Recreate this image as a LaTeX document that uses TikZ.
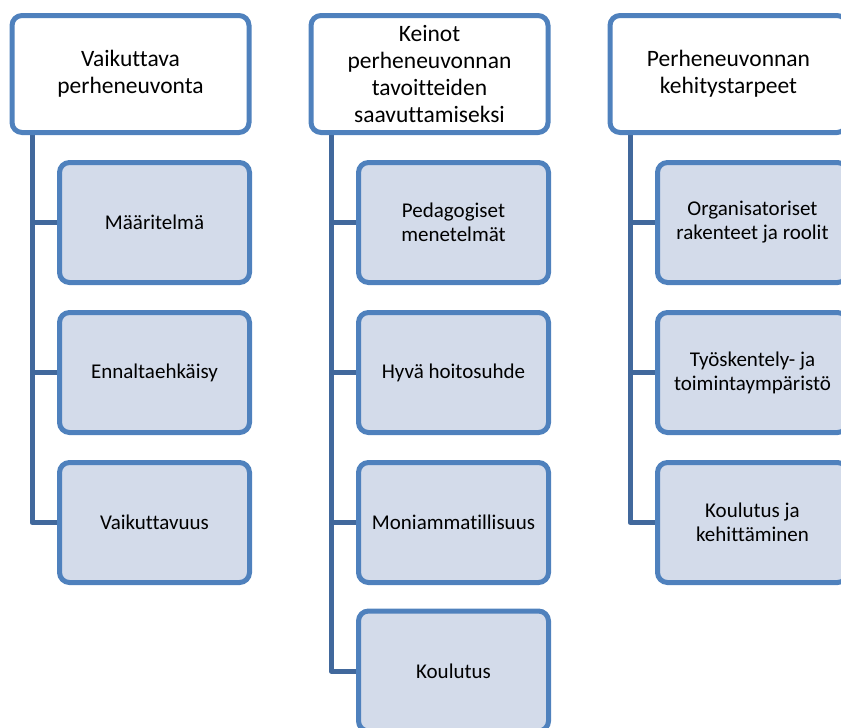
\documentclass[tikz,border=0pt]{standalone}
\usepackage{fontspec}
\setmainfont{Carlito}[Ligatures=NoCommon]
\usetikzlibrary{backgrounds}
\definecolor{bordc}{RGB}{79,129,189}
\definecolor{childfill}{RGB}{211,219,234}
\definecolor{connc}{RGB}{65,104,156}
\tikzset{
  headbox/.style={draw=bordc, line width=5pt, fill=white, rounded corners=10pt,
    minimum width=237pt, minimum height=117pt, align=center, inner sep=0pt,
    font=\fontsize{23.5}{26.8}\selectfont},
  childbox/.style={draw=bordc, line width=5pt, fill=childfill, rounded corners=10pt,
    minimum width=190pt, minimum height=120pt, align=center, inner sep=0pt,
    font=\fontsize{21}{24}\selectfont},
  conn/.style={draw=connc, line width=5pt, line join=round}
}
\begin{document}
\begin{tikzpicture}[x=1pt,y=-1pt]
\clip (0,0) rectangle (841,728);
\useasboundingbox (0,0) rectangle (841,728);
% column 1
\node[headbox] (h1) at (130.5,74) {Vaikuttava\\perheneuvonta};
\node[childbox] (c11) at (154.5,222.5) {Määritelmä};
\node[childbox] (c12) at (154.5,372.5) {Ennaltaehkäisy};
\node[childbox] (c13) at (154.5,522.5) {Vaikuttavuus};
% column 2
\node[headbox] (h2) at (429.5,74) {Keinot\\perheneuvonnan\\tavoitteiden\\saavuttamiseksi};
\node[childbox] (c21) at (453.5,222.5) {Pedagogiset\\menetelmät};
\node[childbox] (c22) at (453.5,372.5) {Hyvä hoitosuhde};
\node[childbox] (c23) at (453.5,522.5) {Moniammatillisuus};
\node[childbox] (c24) at (453.5,671) {Koulutus};
% column 3
\node[headbox] (h3) at (728.5,74) {Perheneuvonnan\\kehitystarpeet};
\node[childbox] (c31) at (752.5,222.5) {Organisatoriset\\rakenteet ja roolit};
\node[childbox] (c32) at (752.5,372.5) {Työskentely- ja\\toimintaympäristö};
\node[childbox] (c33) at (752.5,522.5) {Koulutus ja\\kehittäminen};
\begin{pgfonlayer}{background}
  \coordinate (t1) at ([xshift=22.5pt]h1.south west);
  \coordinate (t2) at ([xshift=22.5pt]h2.south west);
  \coordinate (t3) at ([xshift=22.5pt]h3.south west);
  \draw[conn] (t1) |- (c13.west);
  \draw[conn] (c11.west) -- (c11.west -| t1);
  \draw[conn] (c12.west) -- (c12.west -| t1);
  \draw[conn] (t2) |- (c24.west);
  \draw[conn] (c21.west) -- (c21.west -| t2);
  \draw[conn] (c22.west) -- (c22.west -| t2);
  \draw[conn] (c23.west) -- (c23.west -| t2);
  \draw[conn] (t3) |- (c33.west);
  \draw[conn] (c31.west) -- (c31.west -| t3);
  \draw[conn] (c32.west) -- (c32.west -| t3);
\end{pgfonlayer}
\end{tikzpicture}
\end{document}
